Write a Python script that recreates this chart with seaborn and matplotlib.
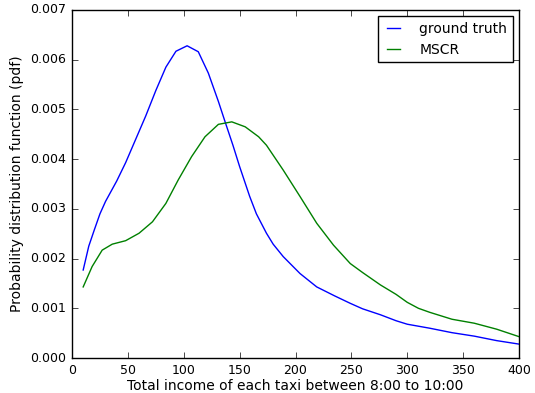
import pandas as pd
import seaborn as sns
import matplotlib
matplotlib.use("Agg")
import matplotlib.pyplot as plt

# values
gt_income = [10, 15, 20, 25, 30, 40, 48, 57, 66, 75, 84, 93, 103, 113, 122, 131,
             137, 144, 150, 159, 165, 174, 180, 189, 204, 219, 235, 249, 260, 276,
             290, 300, 320, 340, 360, 380, 400]
gt_pdf = [0.00177, 0.00225, 0.00258, 0.0029, 0.00315, 0.00356, 0.00393, 0.0044,
          0.00487, 0.00538, 0.00585, 0.00617, 0.00628, 0.00616, 0.00573, 0.00516,
          0.00475, 0.00428, 0.00385, 0.00325, 0.0029, 0.00251, 0.00229, 0.00204,
          0.0017, 0.00143, 0.00125, 0.0011, 0.00099, 0.00087, 0.00075, 0.00068,
          0.0006, 0.00051, 0.00044, 0.00035, 0.00028]

mscr_income = [10, 18, 27, 36, 48, 60, 72, 84, 95, 107, 119, 131, 143, 155, 167,
               174, 180, 189, 204, 219, 234, 249, 260, 276, 290, 300, 310, 320,
               340, 360, 370, 380, 400]
mscr_pdf = [0.00143, 0.00184, 0.00217, 0.00229, 0.00236, 0.00251, 0.00274, 0.00311,
            0.00358, 0.00405, 0.00445, 0.0047, 0.00475, 0.00465, 0.00445, 0.00428,
            0.00408, 0.00378, 0.00325, 0.00271, 0.00227, 0.0019, 0.00172, 0.00147,
            0.00128, 0.00112, 0.001, 0.00092, 0.00078, 0.0007, 0.00064, 0.00058,
            0.00043]

df = pd.concat([
    pd.DataFrame({"income": gt_income, "pdf": gt_pdf, "method": "ground truth"}),
    pd.DataFrame({"income": mscr_income, "pdf": mscr_pdf, "method": "MSCR"}),
])

plt.style.use("classic")
fig = plt.figure(figsize=(5.35, 3.93), dpi=100)
ax = fig.add_axes([0.1346, 0.089, 0.8355, 0.8856])
sns.lineplot(data=df, x="income", y="pdf", hue="method",
             palette={"ground truth": "b", "MSCR": "g"}, ax=ax, linewidth=1)
ax.set_xlim(0, 400)
ax.set_ylim(0, 0.007)
ax.set_xlabel("Total income of each taxi between 8:00 to 10:00", fontsize=10, labelpad=2)
ax.set_ylabel("Probability distribution function (pdf)", fontsize=10)
ax.tick_params(labelsize=9)
ax.legend(loc="upper right", fontsize=10, title=None, handlelength=1.5,
          handletextpad=1.1, borderaxespad=0.45)
fig.savefig("out.png", dpi=100)
